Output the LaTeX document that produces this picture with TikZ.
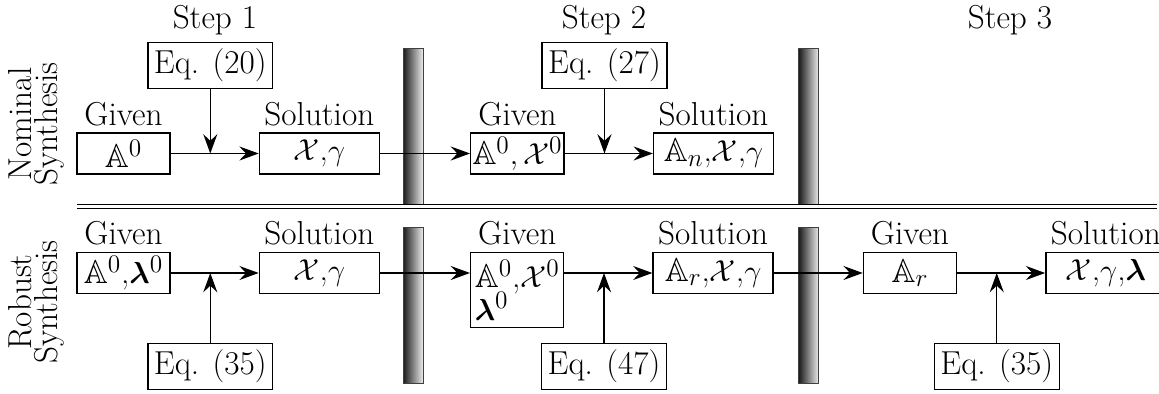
\documentclass[tikz,border=0pt]{standalone}
\usepackage{amsmath}
\usepackage{amssymb}
\usepackage{tikz}
\usetikzlibrary{positioning,calc,arrows.meta}

\begin{document}
\begin{tikzpicture}[
    x=0.02cm, y=-0.02cm,
    font=\fontsize{18.9}{22.7}\selectfont,
    node distance=1.76cm,
    box/.style={rectangle, draw, line width=0.8pt, minimum height=0.82cm, inner sep=1pt, align=center},
    givenbox/.style={box, minimum width=1.86cm, label={above:Given}},
    solbox/.style={box, minimum width=2.4cm, label={above:Solution}},
    eqbox/.style={box, minimum width=2.5cm, minimum height=0.92cm},
    wall/.style={rectangle, draw=black!75, line width=0.4pt, minimum width=0.4cm, minimum height=3.12cm, left color=black!90, right color=black!8},
    rowlabel/.style={rotate=90, align=center},
    arrow/.style={-{Stealth[length=11pt, width=8pt, inset=3.8pt]}, line width=0.8pt},
    every label/.style={inner sep=3.5pt}
]
\useasboundingbox (0,0) rectangle (1159,394);

% Step titles and row titles
\node (step1) at (215,20) {Step 1};
\node (step2) at (604,20) {Step 2};
\node (step3) at (1010,20) {Step 3};
\node[rowlabel] (nominal) at (36,124) {Nominal\\[-8pt]Synthesis};
\node[rowlabel] (robust) at (36,302) {Robust\\[-8pt]Synthesis};

% Walls between the steps
\node[wall] (wall1t) at (413,126.5) {};
\node[wall] (wall1b) at (413,305) {};
\node[wall] (wall2t) at (808.5,126.5) {};
\node[wall] (wall2b) at (808.5,305) {};

% Row 1: Nominal synthesis
\node[givenbox] (given1t) at (123.5,153.5) {$\mathbb{A}^0$};
\node[solbox, right=of given1t] (sol1t) {$\mathcal{X}$,$\gamma$};
\node[givenbox, right=1.8cm of sol1t] (given2t) {$\mathbb{A}^0, \mathcal{X}^0$};
\node[solbox, right=of given2t] (sol2t) {$\mathbb{A}_n$,$\mathcal{X}$,$\gamma$};

% Row 2: Robust synthesis
\node[givenbox] (given1b) at (123.5,273) {$\mathbb{A}^0$,$\boldsymbol{\lambda}^0$};
\node[solbox, right=of given1b] (sol1b) {$\mathcal{X}$,$\gamma$};
\node[givenbox, minimum height=1.5cm, align=left, right=1.8cm of sol1b.north east, anchor=north west] (given2b) {$\mathbb{A}^0$,$\mathcal{X}^0$\\[-4pt]$\boldsymbol{\lambda}^0$};
\node[solbox, right=1.76cm of given2b.north east, anchor=north west] (sol2b) {$\mathbb{A}_r$,$\mathcal{X}$,$\gamma$};
\node[givenbox, right=1.78cm of sol2b] (given3b) {$\mathbb{A}_r$};
\node[solbox, right=of given3b] (sol3b) {$\mathcal{X}$,$\gamma$,$\boldsymbol{\lambda}$};

% Equations
\coordinate (j1t) at ($(given1t.east)!0.45!(sol1t.west)$);
\coordinate (j2t) at ($(given2t.east)!0.45!(sol2t.west)$);
\coordinate (j1b) at ($(given1b.east)!0.45!(sol1b.west)$);
\coordinate (j2b) at ($(given2b.east |- sol2b)!0.45!(sol2b.west)$);
\coordinate (j3b) at ($(given3b.east)!0.45!(sol3b.west)$);
\node[eqbox, above=1.29cm of j1t] (eq1t) {Eq. (20)};
\node[eqbox, above=1.29cm of j2t] (eq2t) {Eq. (27)};
\node[eqbox, below=1.4cm of j1b] (eq1b) {Eq. (35)};
\node[eqbox, below=1.4cm of j2b] (eq2b) {Eq. (47)};
\node[eqbox, below=1.4cm of j3b] (eq3b) {Eq. (35)};

% Separator
\coordinate (sepL) at (77,206.5);
\coordinate (sepR) at (1157,206.5);
\draw[double, double distance=1.6pt, line width=0.6pt] (sepL) -- (sepR);

% Arrows row 1
\draw[arrow] (given1t) -- (sol1t);
\draw[arrow] (eq1t) -- (j1t);
\draw[arrow] (sol1t) -- (given2t);
\draw[arrow] (given2t) -- (sol2t);
\draw[arrow] (eq2t) -- (j2t);

% Arrows row 2
\draw[arrow] (given1b) -- (sol1b);
\draw[arrow] (eq1b) -- (j1b);
\draw[arrow] (sol1b) -- (sol1b -| given2b.west);
\draw[arrow] (given2b.east |- sol2b) -- (sol2b);
\draw[arrow] (eq2b) -- (j2b);
\draw[arrow] (sol2b) -- (given3b);
\draw[arrow] (given3b) -- (sol3b);
\draw[arrow] (eq3b) -- (j3b);

\end{tikzpicture}
\end{document}
